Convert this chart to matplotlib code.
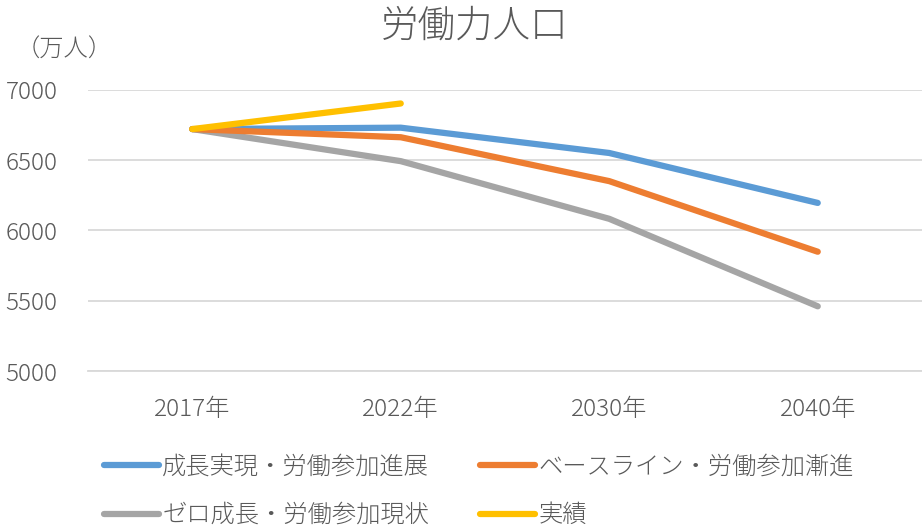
import matplotlib.pyplot as plt

plt.rcParams['font.family'] = ['Noto Sans CJK JP', 'DejaVu Sans']

# Data
years = ['2017年', '2022年', '2030年', '2040年']
growth = [6720, 6730, 6550, 6195]        # 成長実現・労働参加進展
baseline = [6720, 6662, 6350, 5848]      # ベースライン・労働参加漸進
zero = [6720, 6492, 6082, 5460]          # ゼロ成長・労働参加現状
actual = [6720, 6902]                    # 実績

text_color = '#595959'
grid_color = '#d9d9d9'

fig = plt.figure(figsize=(9.22, 5.29), dpi=100)
ax = fig.add_axes([88 / 922, 1 - 371 / 529, 834 / 922, (371 - 89.7) / 529])

x = range(len(years))
lw = 4.5
l1, = ax.plot(x, growth, color='#5b9bd5', lw=lw, solid_capstyle='round', solid_joinstyle='round', zorder=3)
l2, = ax.plot(x, baseline, color='#ed7d31', lw=lw, solid_capstyle='round', solid_joinstyle='round', zorder=3)
l3, = ax.plot(x, zero, color='#a5a5a5', lw=lw, solid_capstyle='round', solid_joinstyle='round', zorder=2)
l4, = ax.plot(range(len(actual)), actual, color='#ffc000', lw=lw, solid_capstyle='round', solid_joinstyle='round', zorder=4)

ax.set_xlim(-0.5, 3.5)
ax.set_ylim(5000, 7000)
ax.set_yticks([5000, 5500, 6000, 6500, 7000])
ax.set_xticks(list(x))
ax.set_xticklabels(years)
ax.tick_params(length=0, labelsize=17.5, colors=text_color, pad=19)
ax.tick_params(axis='y', pad=22)
for t in ax.get_xticklabels() + ax.get_yticklabels():
    t.set_fontweight('light')
ax.grid(axis='y', color=grid_color, lw=1.3)
ax.set_axisbelow(True)
for s in ['top', 'right', 'left']:
    ax.spines[s].set_visible(False)
ax.spines['bottom'].set_color(grid_color)
ax.spines['bottom'].set_linewidth(1.3)

fig.text(475 / 922, 1 - 26 / 529, '労働力人口', ha='center', va='center', fontsize=27,
         color=text_color, fontweight='light')
fig.text(64 / 922, 1 - 50 / 529, '（万人）', ha='center', va='center', fontsize=17.5,
         color=text_color, fontweight='light')

leg = fig.legend([l1, l3, l2, l4],
                 ['成長実現・労働参加進展', 'ゼロ成長・労働参加現状', 'ベースライン・労働参加漸進', '実績'],
                 ncol=2, loc='upper left', bbox_to_anchor=(104 / 922, 1 - 455 / 529),
                 frameon=False, fontsize=17.5, labelcolor=text_color,
                 handlelength=2.25, handletextpad=0.15, columnspacing=2.1,
                 labelspacing=0.95, borderpad=0, borderaxespad=0)
for t in leg.get_texts():
    t.set_fontweight('light')

fig.savefig('out.png', dpi=100)
